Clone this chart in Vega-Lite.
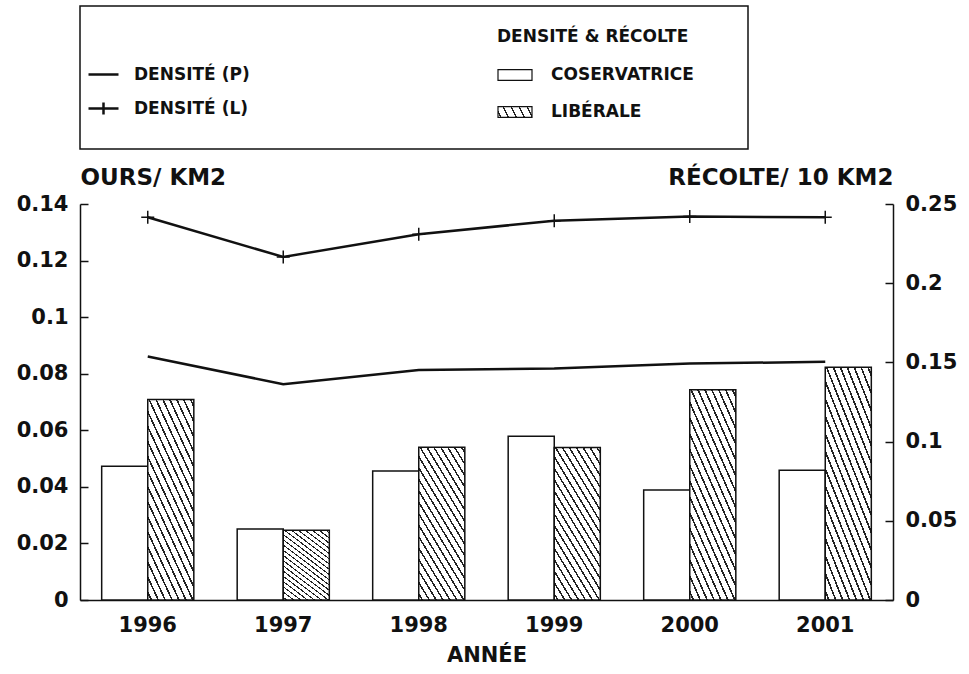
{
  "$schema": "https://vega.github.io/schema/vega-lite/v6.json",
  "background": "white",
  "padding": {"left": 16, "top": 5, "right": 5, "bottom": 5},
  "spacing": 55,
  "bounds": "flush",
  "config": {
    "font": "DejaVu Sans",
    "view": {"stroke": null},
    "axis": {
      "labelFont": "DejaVu Sans", "labelFontWeight": "bold", "labelColor": "#111",
      "titleFont": "DejaVu Sans", "titleFontWeight": "bold", "titleColor": "#111",
      "domainColor": "#111", "tickColor": "#111", "grid": false
    },
    "legend": {
      "padding": 0, "titleLimit": 400, "labelLimit": 400,
      "labelFont": "DejaVu Sans", "labelFontWeight": "bold", "labelFontSize": 17, "labelColor": "#111",
      "titleFont": "DejaVu Sans", "titleFontWeight": "bold", "titleFontSize": 17, "titleColor": "#111"
    }
  },
  "datasets": {
    "barres": [
      {"annee": "1996", "type": "COSERVATRICE", "recolte": 0.0844},
      {"annee": "1996", "type": "LIBÉRALE", "recolte": 0.1266},
      {"annee": "1997", "type": "COSERVATRICE", "recolte": 0.0449},
      {"annee": "1997", "type": "LIBÉRALE", "recolte": 0.0440},
      {"annee": "1998", "type": "COSERVATRICE", "recolte": 0.0815},
      {"annee": "1998", "type": "LIBÉRALE", "recolte": 0.0964},
      {"annee": "1999", "type": "COSERVATRICE", "recolte": 0.1033},
      {"annee": "1999", "type": "LIBÉRALE", "recolte": 0.0962},
      {"annee": "2000", "type": "COSERVATRICE", "recolte": 0.0694},
      {"annee": "2000", "type": "LIBÉRALE", "recolte": 0.1328},
      {"annee": "2001", "type": "COSERVATRICE", "recolte": 0.0819},
      {"annee": "2001", "type": "LIBÉRALE", "recolte": 0.1469}
    ],
    "densite": [
      {"annee": "1996", "serie": "DENSITÉ (P)", "densite": 0.0861},
      {"annee": "1997", "serie": "DENSITÉ (P)", "densite": 0.0763},
      {"annee": "1998", "serie": "DENSITÉ (P)", "densite": 0.0813},
      {"annee": "1999", "serie": "DENSITÉ (P)", "densite": 0.0818},
      {"annee": "2000", "serie": "DENSITÉ (P)", "densite": 0.0836},
      {"annee": "2001", "serie": "DENSITÉ (P)", "densite": 0.0842},
      {"annee": "1996", "serie": "DENSITÉ (L)", "densite": 0.1353},
      {"annee": "1997", "serie": "DENSITÉ (L)", "densite": 0.1213},
      {"annee": "1998", "serie": "DENSITÉ (L)", "densite": 0.1293},
      {"annee": "1999", "serie": "DENSITÉ (L)", "densite": 0.1341},
      {"annee": "2000", "serie": "DENSITÉ (L)", "densite": 0.1356},
      {"annee": "2001", "serie": "DENSITÉ (L)", "densite": 0.1353}
    ]
  },
  "vconcat": [
    {
      "width": 668,
      "height": 143,
      "view": {"stroke": "#111", "strokeWidth": 1.5},
      "data": {"values": [{"t": ""}]},
      "mark": {"type": "text"},
      "encoding": {"text": {"field": "t"}}
    },
    {
      "width": 813,
      "height": 396,
      "encoding": {
        "x": {
          "field": "annee", "type": "ordinal",
          "scale": {"paddingInner": 0.32, "paddingOuter": 0.16},
          "axis": {
            "title": "ANNÉE", "labelAngle": 0, "labelFontSize": 21, "titleFontSize": 21,
            "ticks": false, "tickSize": 0, "labelPadding": 14, "titlePadding": 9, "domainWidth": 1.5
          }
        }
      },
      "layer": [
        {
          "data": {"name": "barres"},
          "mark": {"type": "bar", "strokeWidth": 1.5},
          "encoding": {
            "xOffset": {"field": "type", "sort": ["COSERVATRICE", "LIBÉRALE"]},
            "y": {
              "field": "recolte", "type": "quantitative",
              "scale": {"domain": [0, 0.25], "nice": false},
              "axis": {
                "orient": "right", "title": "RÉCOLTE/ 10 KM2", "titleAngle": 0, "titleAlign": "right",
                "titleBaseline": "alphabetic", "titleX": 0, "titleY": -20, "titleFontSize": 23,
                "values": [0, 0.05, 0.1, 0.15, 0.2, 0.25], "format": "~g",
                "labelFontSize": 21, "tickSize": -8, "labelPadding": 20, "domainWidth": 1.5, "tickWidth": 1.5
              }
            },
            "stroke": {
              "field": "type", "type": "nominal",
              "scale": {"domain": ["COSERVATRICE", "LIBÉRALE"], "range": ["#111111", "#111111"]},
              "legend": {
                "title": "DENSITÉ & RÉCOLTE", "orient": "none", "legendX": 417, "legendY": 23,
                "symbolType": "M-1,-0.32H1V0.32H-1Z", "symbolSize": 1156, "symbolStrokeWidth": 1.2,
                "titlePadding": 11, "labelOffset": 18, "rowPadding": 11
              }
            },
            "fill": {
              "field": "type", "type": "nominal",
              "scale": {"domain": ["COSERVATRICE", "LIBÉRALE"], "range": ["#ffffff", {"expr": "{gradient: 'linear', x1: 0, y1: 1, x2: 1.13, y2: 0.82, stops: [{offset: 0.05, color: '#fff'}, {offset: 0.05, color: '#222'}, {offset: 0.09, color: '#222'}, {offset: 0.09, color: '#fff'}, {offset: 0.25, color: '#fff'}, {offset: 0.25, color: '#222'}, {offset: 0.29, color: '#222'}, {offset: 0.29, color: '#fff'}, {offset: 0.45, color: '#fff'}, {offset: 0.45, color: '#222'}, {offset: 0.49, color: '#222'}, {offset: 0.49, color: '#fff'}, {offset: 0.65, color: '#fff'}, {offset: 0.65, color: '#222'}, {offset: 0.69, color: '#222'}, {offset: 0.69, color: '#fff'}, {offset: 0.85, color: '#fff'}, {offset: 0.85, color: '#222'}, {offset: 0.89, color: '#222'}, {offset: 0.89, color: '#fff'}]}"}]},
              "condition": {
                "test": "datum.type === 'LIBÉRALE'",
                "value": {"gradient": "linear", "x1": 0, "y1": 1, "x2": 0.6, "y2": -0.2, "stops": [
                  {"offset": 0.02, "color": "#fff"}, {"offset": 0.02, "color": "#222"}, {"offset": 0.0325, "color": "#222"}, {"offset": 0.0325, "color": "#fff"},
                  {"offset": 0.07, "color": "#fff"}, {"offset": 0.07, "color": "#222"}, {"offset": 0.0825, "color": "#222"}, {"offset": 0.0825, "color": "#fff"},
                  {"offset": 0.12, "color": "#fff"}, {"offset": 0.12, "color": "#222"}, {"offset": 0.1325, "color": "#222"}, {"offset": 0.1325, "color": "#fff"},
                  {"offset": 0.17, "color": "#fff"}, {"offset": 0.17, "color": "#222"}, {"offset": 0.1825, "color": "#222"}, {"offset": 0.1825, "color": "#fff"},
                  {"offset": 0.22, "color": "#fff"}, {"offset": 0.22, "color": "#222"}, {"offset": 0.2325, "color": "#222"}, {"offset": 0.2325, "color": "#fff"},
                  {"offset": 0.27, "color": "#fff"}, {"offset": 0.27, "color": "#222"}, {"offset": 0.2825, "color": "#222"}, {"offset": 0.2825, "color": "#fff"},
                  {"offset": 0.32, "color": "#fff"}, {"offset": 0.32, "color": "#222"}, {"offset": 0.3325, "color": "#222"}, {"offset": 0.3325, "color": "#fff"},
                  {"offset": 0.37, "color": "#fff"}, {"offset": 0.37, "color": "#222"}, {"offset": 0.3825, "color": "#222"}, {"offset": 0.3825, "color": "#fff"},
                  {"offset": 0.42, "color": "#fff"}, {"offset": 0.42, "color": "#222"}, {"offset": 0.4325, "color": "#222"}, {"offset": 0.4325, "color": "#fff"},
                  {"offset": 0.47, "color": "#fff"}, {"offset": 0.47, "color": "#222"}, {"offset": 0.4825, "color": "#222"}, {"offset": 0.4825, "color": "#fff"},
                  {"offset": 0.52, "color": "#fff"}, {"offset": 0.52, "color": "#222"}, {"offset": 0.5325, "color": "#222"}, {"offset": 0.5325, "color": "#fff"},
                  {"offset": 0.57, "color": "#fff"}, {"offset": 0.57, "color": "#222"}, {"offset": 0.5825, "color": "#222"}, {"offset": 0.5825, "color": "#fff"},
                  {"offset": 0.62, "color": "#fff"}, {"offset": 0.62, "color": "#222"}, {"offset": 0.6325, "color": "#222"}, {"offset": 0.6325, "color": "#fff"},
                  {"offset": 0.67, "color": "#fff"}, {"offset": 0.67, "color": "#222"}, {"offset": 0.6825, "color": "#222"}, {"offset": 0.6825, "color": "#fff"},
                  {"offset": 0.72, "color": "#fff"}, {"offset": 0.72, "color": "#222"}, {"offset": 0.7325, "color": "#222"}, {"offset": 0.7325, "color": "#fff"},
                  {"offset": 0.77, "color": "#fff"}, {"offset": 0.77, "color": "#222"}, {"offset": 0.7825, "color": "#222"}, {"offset": 0.7825, "color": "#fff"},
                  {"offset": 0.82, "color": "#fff"}, {"offset": 0.82, "color": "#222"}, {"offset": 0.8325, "color": "#222"}, {"offset": 0.8325, "color": "#fff"},
                  {"offset": 0.87, "color": "#fff"}, {"offset": 0.87, "color": "#222"}, {"offset": 0.8825, "color": "#222"}, {"offset": 0.8825, "color": "#fff"},
                  {"offset": 0.92, "color": "#fff"}, {"offset": 0.92, "color": "#222"}, {"offset": 0.9325, "color": "#222"}, {"offset": 0.9325, "color": "#fff"},
                  {"offset": 0.97, "color": "#fff"}, {"offset": 0.97, "color": "#222"}, {"offset": 0.9825, "color": "#222"}, {"offset": 0.9825, "color": "#fff"}
                ]}
              },
              "legend": {
                "title": "DENSITÉ & RÉCOLTE", "orient": "none", "legendX": 417, "legendY": 23,
                "symbolType": "M-1,-0.32H1V0.32H-1Z", "symbolSize": 1156, "symbolStrokeWidth": 1.2,
                "titlePadding": 11, "labelOffset": 18, "rowPadding": 11
              }
            }
          }
        },
        {
          "data": {"name": "densite"},
          "encoding": {
            "y": {
              "field": "densite", "type": "quantitative",
              "scale": {"domain": [0, 0.14], "nice": false},
              "axis": {
                "orient": "left", "title": "OURS/ KM2", "titleAngle": 0, "titleAlign": "left",
                "titleBaseline": "alphabetic", "titleX": 0, "titleY": -20, "titleFontSize": 23,
                "values": [0, 0.02, 0.04, 0.06, 0.08, 0.1, 0.12, 0.14], "format": "~g",
                "labelFontSize": 21, "tickSize": -8, "labelPadding": 20, "domainWidth": 1.5, "tickWidth": 1.5
              }
            }
          },
          "layer": [
            {
              "mark": {"type": "line", "color": "#111", "strokeWidth": 2.5},
              "encoding": {"detail": {"field": "serie"}}
            },
            {
              "transform": [{"filter": "datum.serie === 'DENSITÉ (L)'"}],
              "mark": {"type": "point", "filled": false, "color": "#111", "strokeWidth": 1.5, "size": 169, "opacity": 1, "shape": "M-1,0H1M0,-1V1"}
            },
            {
              "mark": {"type": "point", "filled": false, "color": "#111", "size": 0, "opacity": 1},
              "encoding": {
                "shape": {
                  "field": "serie", "type": "nominal",
                  "scale": {"domain": ["DENSITÉ (P)", "DENSITÉ (L)"], "range": ["M-1,0H1", "M-1,0H1M0,-0.4V0.4"]},
                  "legend": {
                    "title": null, "orient": "none", "legendX": 7, "legendY": 52,
                    "symbolSize": 900, "symbolStrokeWidth": 2.5, "symbolStrokeColor": "#111",
                    "labelOffset": 14, "rowPadding": 9
                  }
                }
              }
            }
          ]
        }
      ],
      "resolve": {"scale": {"y": "independent"}}
    }
  ]
}
